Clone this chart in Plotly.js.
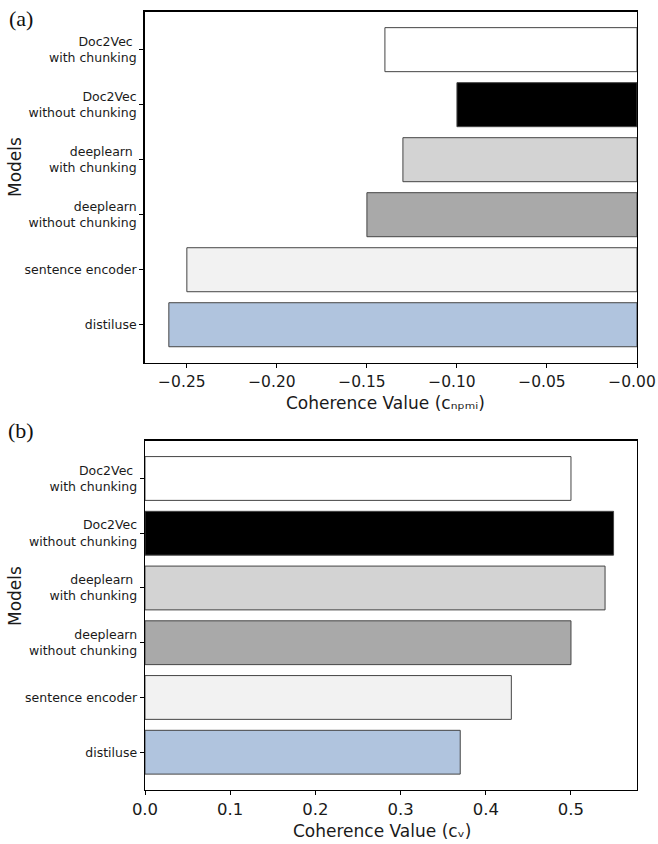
<!DOCTYPE html>
<html>
<head>
<meta charset="utf-8">
<script src="https://cdn.plot.ly/plotly-3.0.1.min.js"></script>
<style>html,body{margin:0;padding:0;background:#fff;}#chart{width:658px;height:844px;}</style>
</head>
<body>
<div id="chart"></div>
<script>
// Categories, bottom to top
const models = [
  "distiluse",
  "sentence encoder",
  "deeplearn<br>without chunking",
  "deeplearn&nbsp;<br>with chunking",
  "Doc2Vec<br>without chunking",
  "Doc2Vec&nbsp;<br>with chunking"
];
const barColors = ["#b0c4de", "#f2f2f2", "#a9a9a9", "#d3d3d3", "#000000", "#ffffff"];
// (a) NPMI coherence
const npmiValues = [-0.26, -0.25, -0.15, -0.13, -0.10, -0.14];
const npmiTicks = [-0.25, -0.20, -0.15, -0.10, -0.05, 0];
const npmiTickText = ["−0.25", "−0.20", "−0.15", "−0.10", "−0.05", "−0.00"];
// (b) C_V coherence
const cvValues = [0.37, 0.43, 0.50, 0.54, 0.55, 0.50];
const cvTicks = [0.0, 0.1, 0.2, 0.3, 0.4, 0.5];
const cvTickText = ["0.0", "0.1", "0.2", "0.3", "0.4", "0.5"];

const W = 658, H = 844;
const px = x => x / W;
const py = y => 1 - y / H;

const barStyle = {color: barColors, line: {color: "#444", width: 1}};

const traces = [
  {type: "bar", orientation: "h", y: models, x: npmiValues, width: 0.8,
   marker: barStyle, xaxis: "x", yaxis: "y", hoverinfo: "x+y"},
  {type: "bar", orientation: "h", y: models, x: cvValues, width: 0.8,
   marker: barStyle, xaxis: "x2", yaxis: "y2", hoverinfo: "x+y"}
];

const tickFontX1 = {family: "DejaVu Sans", size: 15.5, color: "#1a1a1a"};
const tickFontX2 = {family: "DejaVu Sans", size: 16.5, color: "#1a1a1a"};
const tickFontY = {family: "DejaVu Sans", size: 12.5, color: "#1a1a1a"};
const axisCommon = {showline: true, linecolor: "#000", linewidth: 1.3, mirror: true,
  ticks: "outside", ticklen: 4, tickwidth: 1, tickcolor: "#000", showgrid: false, zeroline: false,
  ticklabeloverflow: "allow"};

const xmin = npmiValues.reduce((a, b) => Math.min(a, b), 0);
const xmax = cvValues.reduce((a, b) => Math.max(a, b), 0);

const layout = {
  width: W, height: H,
  margin: {l: 0, r: 0, t: 0, b: 0},
  paper_bgcolor: "#fff", plot_bgcolor: "#fff",
  showlegend: false,
  bargap: 0.2,
  xaxis: Object.assign({}, axisCommon, {domain: [px(144.5), px(637)], anchor: "y",
    range: [xmin * 1.052, 0.000001], tickvals: npmiTicks, ticktext: npmiTickText,
    tickfont: tickFontX1, ticklabelshift: -5}),
  yaxis: Object.assign({}, axisCommon, {domain: [py(362.7), py(11.7)], anchor: "x",
    type: "category", range: [-0.69, 5.69], tickfont: tickFontY}),
  xaxis2: Object.assign({}, axisCommon, {domain: [px(145), px(637)], anchor: "y2",
    range: [0, xmax * 1.05], tickvals: cvTicks, ticktext: cvTickText, tickfont: tickFontX2}),
  yaxis2: Object.assign({}, axisCommon, {domain: [py(790), py(440.7)], anchor: "x2",
    type: "category", range: [-0.69, 5.69], tickfont: tickFontY}),
  annotations: [
    {text: "Coherence Value (cₙₚₘᵢ)", xref: "paper", yref: "paper", x: px(385), y: py(403),
     showarrow: false, xanchor: "center", yanchor: "middle",
     font: {family: "DejaVu Sans", size: 17, color: "#1a1a1a"}},
    {text: "Coherence Value (cᵥ)", xref: "paper", yref: "paper", x: px(382), y: py(831),
     showarrow: false, xanchor: "center", yanchor: "middle",
     font: {family: "DejaVu Sans", size: 17, color: "#1a1a1a"}},
    {text: "Models", xref: "paper", yref: "paper", x: px(15), y: py(167), textangle: -90,
     showarrow: false, xanchor: "center", yanchor: "middle",
     font: {family: "DejaVu Sans", size: 17, color: "#1a1a1a"}},
    {text: "Models", xref: "paper", yref: "paper", x: px(15), y: py(596), textangle: -90,
     showarrow: false, xanchor: "center", yanchor: "middle",
     font: {family: "DejaVu Sans", size: 17, color: "#1a1a1a"}},
    {text: "(a)", xref: "paper", yref: "paper", x: px(21), y: py(18),
     showarrow: false, xanchor: "center", yanchor: "middle",
     font: {family: "Liberation Serif", size: 22, color: "#111"}},
    {text: "(b)", xref: "paper", yref: "paper", x: px(21), y: py(430),
     showarrow: false, xanchor: "center", yanchor: "middle",
     font: {family: "Liberation Serif", size: 22, color: "#111"}}
  ]
};

Plotly.newPlot("chart", traces, layout, {staticPlot: true, displayModeBar: false});
</script>
</body>
</html>
